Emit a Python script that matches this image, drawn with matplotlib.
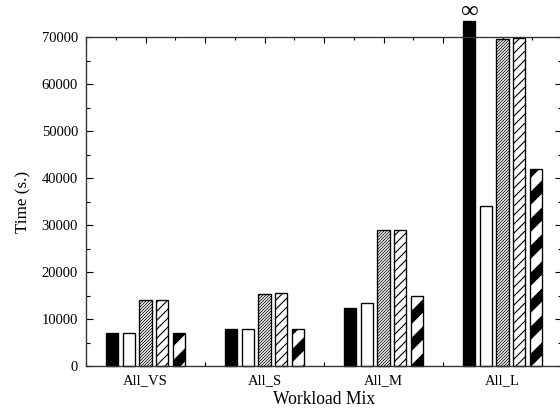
import matplotlib
matplotlib.use("Agg")
import matplotlib.pyplot as plt
import numpy as np
from matplotlib.ticker import MultipleLocator

# workload mixes and the five series (s.)
mixes = ["All_VS", "All_S", "All_M", "All_L"]
series_1 = [7000, 7800, 12400, 73500]   # last one is "infinity", drawn past the top
series_2 = [7000, 7800, 13500, 34000]
series_3 = [14000, 15300, 28900, 69500]
series_4 = [14100, 15500, 28900, 69700]
series_5 = [7000, 7850, 14900, 42000]
infinite = [False, False, False, True]

plt.rcParams['font.family'] = ['Liberation Serif', 'DejaVu Serif', 'DejaVu Sans']

DPI = 162
fig = plt.figure(figsize=(560 / DPI, 417 / DPI), dpi=DPI)
ax = fig.add_axes([86 / 560, 1 - 366 / 417, 476 / 560, 329 / 417])

x = np.arange(len(mixes))
w = 0.105
step = 0.14
styles = [
    dict(color="black", hatch=None, hlw=0.45),
    dict(color="white", hatch=None, hlw=0.45),
    dict(color="white", hatch="/" * 18, hlw=0.35),
    dict(color="white", hatch="/" * 6, hlw=0.5),
    dict(color="white", hatch="//", hlw=4.2),
]
all_series = [series_1, series_2, series_3, series_4, series_5]

for i, (vals, st) in enumerate(zip(all_series, styles)):
    plt.rcParams['hatch.linewidth'] = st["hlw"]
    bars = ax.bar(x + (i - 2) * step, vals, width=w, color=st["color"],
                  edgecolor="black", linewidth=0.6, hatch=st["hatch"], zorder=2)
    for b in bars:
        if hasattr(b, "set_hatch_linewidth"):
            b.set_hatch_linewidth(st["hlw"])
        b.set_clip_on(False)

# infinity marker on top of the unbounded bar
for xi, v, inf in zip(x, series_1, infinite):
    if inf:
        ax.text(xi - 2 * step, v + 600, "\u221e", ha="center", va="baseline",
                fontsize=11, clip_on=False)

ax.set_xlim(-0.5, 3.5)
ax.set_ylim(0, 70000)
ax.set_xticks(x)
ax.set_xticklabels(mixes, fontsize=6.5)
ax.xaxis.set_minor_locator(MultipleLocator(0.5))
ax.tick_params(axis="x", which="major", length=0, pad=3.5)
ax.tick_params(axis="x", which="minor", length=2, direction="in", width=0.5)

ax.yaxis.set_major_locator(MultipleLocator(10000))
ax.yaxis.set_minor_locator(MultipleLocator(5000))
ax.tick_params(axis="y", which="both", direction="in", right=True, labelsize=6.5, width=0.5)
ax.tick_params(axis="y", which="major", length=3)
ax.tick_params(axis="y", which="minor", length=1.8)

top = ax.secondary_xaxis("top")
top.set_xticks(np.arange(-0.5, 3.51, 0.5))
top.xaxis.set_minor_locator(MultipleLocator(0.25))
top.tick_params(which="both", direction="in", labeltop=False, width=0.5)
top.tick_params(which="major", length=2.5)
top.tick_params(which="minor", length=1.5)
top.spines["top"].set_visible(False)

for s in ax.spines.values():
    s.set_linewidth(0.6)
    s.set_color("#333333")

ax.set_xlabel("Workload Mix", fontsize=7.8, labelpad=2)
ax.set_ylabel("Time (s.)", fontsize=7.6, labelpad=4.5)

fig.savefig("out.png", dpi=DPI)
